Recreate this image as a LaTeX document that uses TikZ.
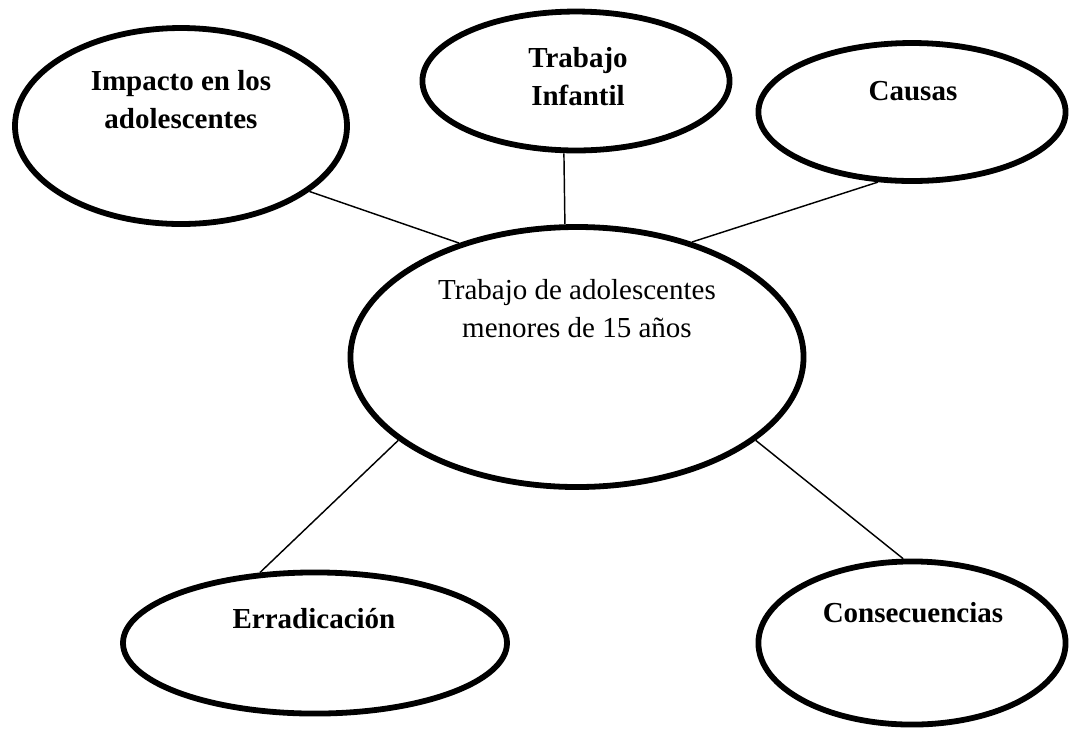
\documentclass[tikz,border=0pt]{standalone}
\usepackage{fontspec}
\setmainfont{Liberation Serif}
\usetikzlibrary{shapes.geometric}

\begin{document}
\begin{tikzpicture}[x=0.4138pt, y=-0.4138pt,
    bubble/.style={ellipse, draw, line width=2.4pt, inner sep=0pt},
    tag/.style={align=center, anchor=base, inner sep=0pt,
      font=\fontsize{12}{15.5}\selectfont},
    keytag/.style={tag, font=\fontsize{12}{15.7}\selectfont\bfseries},
    link/.style={line width=0.6pt}]
  \useasboundingbox (0,0) rectangle (1070,729);
  \node[bubble, minimum width=187.5pt, minimum height=107.6pt] (ctr) at (577,357) {};
  \node[bubble, minimum width=137.4pt, minimum height=81.1pt] (imp) at (181,126) {};
  \node[bubble, minimum width=127.1pt, minimum height=57.5pt] (inf) at (576,81) {};
  \node[bubble, minimum width=127.1pt, minimum height=57.1pt] (cau) at (912,112) {};
  \node[bubble, minimum width=158.9pt, minimum height=58.4pt] (err) at (315,643) {};
  \node[bubble, minimum width=127.1pt, minimum height=67.5pt] (con) at (912,643) {};
  \node[tag] (ctrT) at (577,337) {Trabajo de adolescentes\\menores de 15 años};
  \node[keytag] (impT) at (181,128) {Impacto en los\\adolescentes};
  \node[keytag] (infT) at (578,105) {Trabajo\\Infantil};
  \node[keytag] (cauT) at (913,100) {Causas};
  \node[keytag] (errT) at (314,628) {Erradicación};
  \node[keytag] (conT) at (913,622) {Consecuencias};
  \draw[link] (imp.-27) -- (ctr.136);
  \draw[link] ([xshift=-5pt]inf.south) -- ([xshift=-5pt]ctr.north);
  \draw[link] (cau.-116) -- (ctr.45);
  \draw[link] (err.128) -- (ctr.-155);
  \draw[link] (con.96) -- (ctr.-25);
\end{tikzpicture}
\end{document}
